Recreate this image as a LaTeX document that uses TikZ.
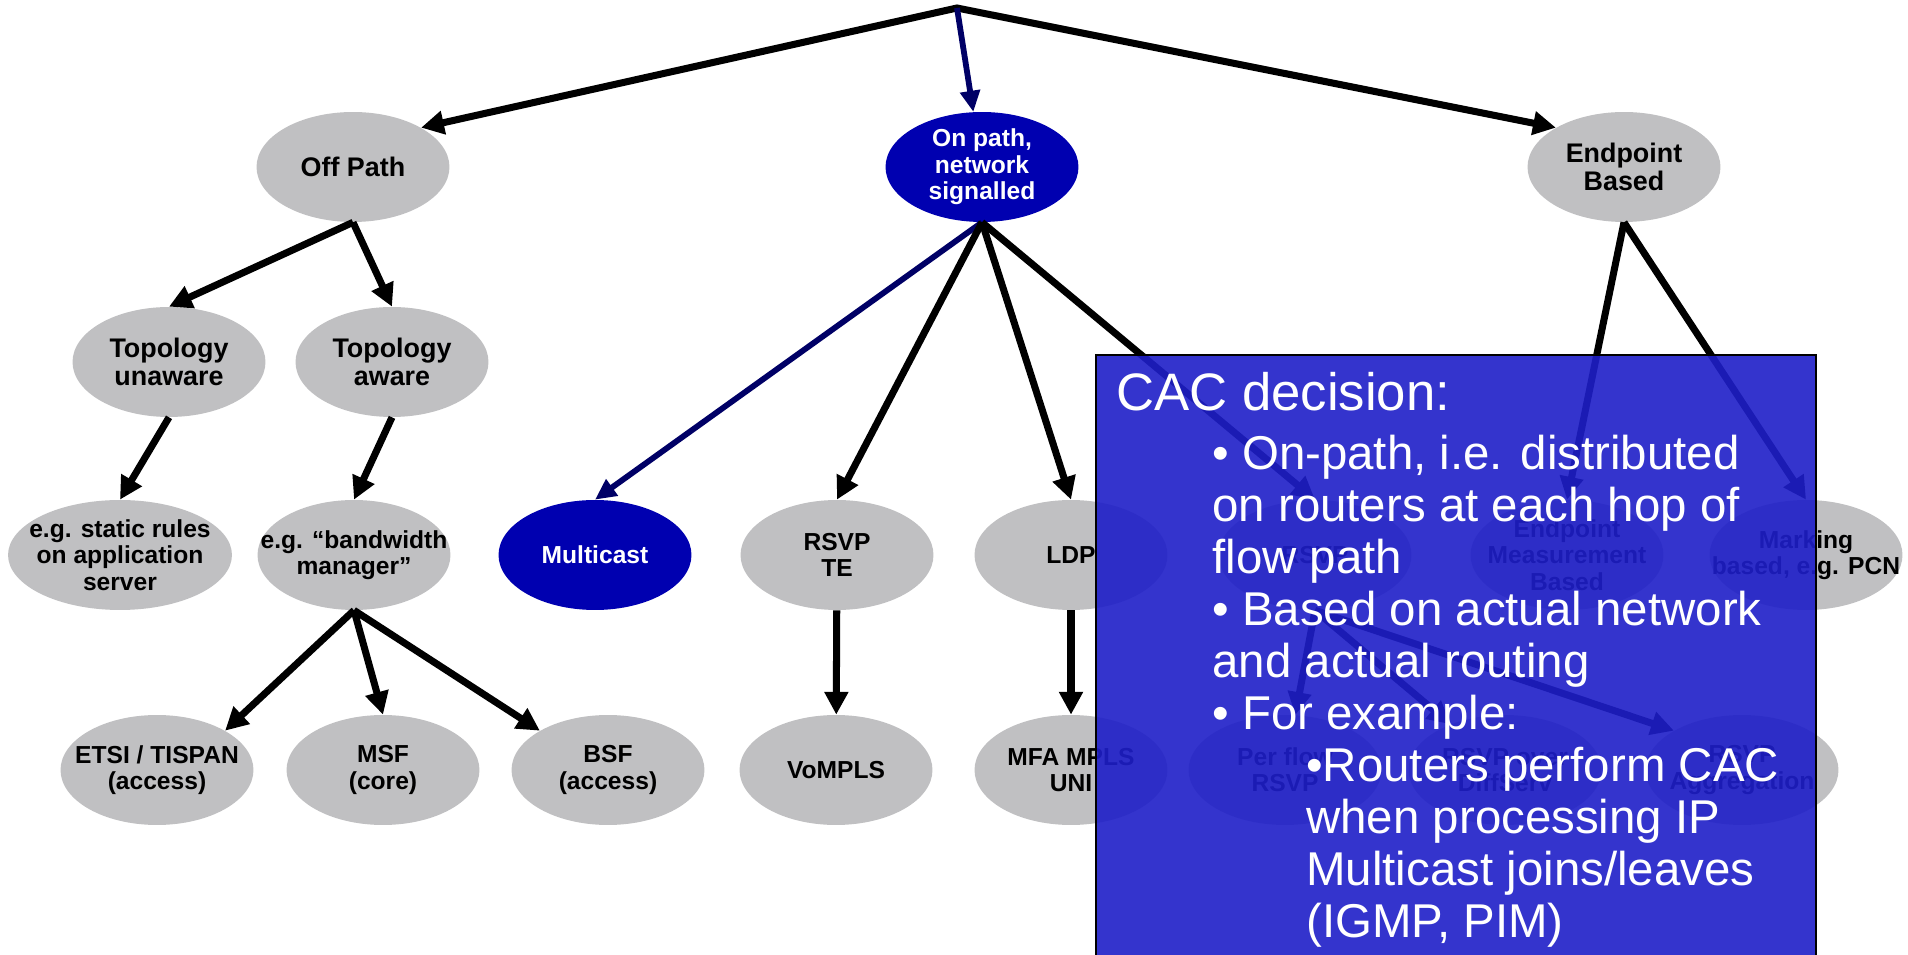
\documentclass[tikz,border=0pt]{standalone}
\usepackage{fontspec}
\setmainfont{Liberation Sans}
\usetikzlibrary{arrows.meta,shapes.geometric,positioning}
\definecolor{nodegray}{RGB}{192,192,194}
\definecolor{pathblue}{RGB}{0,0,176}
\definecolor{arrownavy}{RGB}{0,0,102}
\definecolor{notefill}{RGB}{30,30,200}
\tikzset{
  % fixed-size ellipses: the negative inner sep keeps long labels from widening them
  leaf/.style={ellipse, fill=nodegray, minimum width=3.86cm, minimum height=2.2cm,
               inner xsep=-30pt, inner ysep=-10pt, align=center,
               font=\bfseries\fontsize{14}{15}\selectfont},
  bigleaf/.style={leaf, font=\bfseries\fontsize{15.3}{16}\selectfont},
  hilite/.style={leaf, fill=pathblue, text=white},
  link/.style={-{Triangle[length=13pt,width=13pt]}, line width=4pt},
  bluelink/.style={-{Triangle[length=12pt,width=11pt]}, line width=3.3pt, draw=arrownavy},
  notebox/.style={draw=black, line width=1pt, fill=notefill, fill opacity=0.9},
  notehead/.style={text=white, inner sep=0pt, font=\fontsize{30}{30}\selectfont},
  noteitem/.style={text=white, inner sep=0pt, align=left, font=\fontsize{27}{29.6}\selectfont},
}

\begin{document}
\begin{tikzpicture}[x=0.02cm, y=-0.02cm]
  \useasboundingbox (0,0) rectangle (1908,955);

  % first level
  \coordinate (root) at (957,8);
  \node[bigleaf] (offpath) at (353,167) {Off Path};
  \node[bigleaf, hilite] (onpath) at (982,167) {On path,\\network\\signalled};
  \node[bigleaf] (endpoint) at (1624,167) {Endpoint\\Based};

  % off path branch
  \node[bigleaf] (topounaware) at (169,362) {Topology\\unaware};
  \node[bigleaf] (topoaware) at (392,362) {Topology\\aware};
  \node[leaf, minimum width=4.48cm] (staticrules) at (120,555) {e.g. static rules\\on application\\server};
  \node[leaf] (bwmanager) at (354,555) {e.g. “bandwidth\\manager”};
  \node[leaf] (etsi) at (157,770) {ETSI / TISPAN\\(access)};
  \node[leaf] (msf) at (383,770) {MSF\\(core)};
  \node[leaf] (bsf) at (608,770) {BSF\\(access)};

  % on path branch
  \node[hilite] (multicast) at (595,555) {Multicast};
  \node[leaf] (rsvpte) at (837,555) {RSVP\\TE};
  \node[leaf] (ldp) at (1071,555) {LDP};
  \node[leaf] (rsvp) at (1315,555) {RSVP};
  \node[leaf] (vompls) at (836,770) {VoMPLS};
  \node[leaf] (mfa) at (1071,770) {MFA MPLS\\UNI};
  \node[leaf] (perflow) at (1285,770) {Per flow\\RSVP};
  \node[leaf] (diffserv) at (1505,770) {RSVP over\\DiffServ};
  \node[leaf] (aggreg) at (1742,770) {RSVP\\Aggregation};

  % endpoint branch
  \node[leaf] (measured) at (1567,555) {Endpoint\\Measurement\\Based};
  \node[leaf] (marking) at (1806,555) {Marking\\based, e.g. PCN};

  % connectors
  \draw[link, {Triangle[length=13pt,width=13pt]}-{Triangle[length=13pt,width=13pt]}]
    (offpath.30) -- (root) -- (endpoint.150);
  \draw[bluelink] (root) -- (onpath);
  \draw[link] (offpath.south) -- (topounaware.north);
  \draw[link] (offpath.south) -- (topoaware.north);
  \draw[link] (topounaware.south) -- (staticrules.north);
  \draw[link] (topoaware.south) -- (bwmanager.north);
  \draw[link] (bwmanager.south) -- (etsi.30);
  \draw[link] (bwmanager.south) -- (msf.north);
  \draw[link] (bwmanager.south) -- (bsf.150);
  \draw[bluelink] (onpath.south) -- (multicast.north);
  \draw[link] (onpath.south) -- (rsvpte.north);
  \draw[link] (onpath.south) -- (ldp.north);
  \draw[link] (onpath.south) -- (rsvp.north);
  \draw[link] (rsvpte) -- (vompls);
  \draw[link] (ldp) -- (mfa);
  \draw[link] (rsvp.south) -- (perflow);
  \draw[link] (rsvp.south) -- (diffserv);
  \draw[link] (rsvp.south) -- (aggreg.150);
  \draw[link] (endpoint.south) -- (measured.north);
  \draw[link] (endpoint.south) -- (marking.north);

  % note over the right half
  \draw[notebox] (1096,355) rectangle (1816,975);
  \node[notehead, anchor=base west] (notetitle) at (1116,411) {CAC decision:};
  \node[noteitem, anchor=north west] (notemain) at (1212,435)
    {\textbullet\ On-path, i.e. distributed\\on routers at each hop of\\flow path\\
     \textbullet\ Based on actual network\\and actual routing\\\textbullet\ For example:};
  \node[noteitem, anchor=north west] (notesub) at (1306,747)
    {\textbullet Routers perform CAC\\when processing IP\\Multicast joins/leaves\\(IGMP, PIM)};
\end{tikzpicture}
\end{document}
